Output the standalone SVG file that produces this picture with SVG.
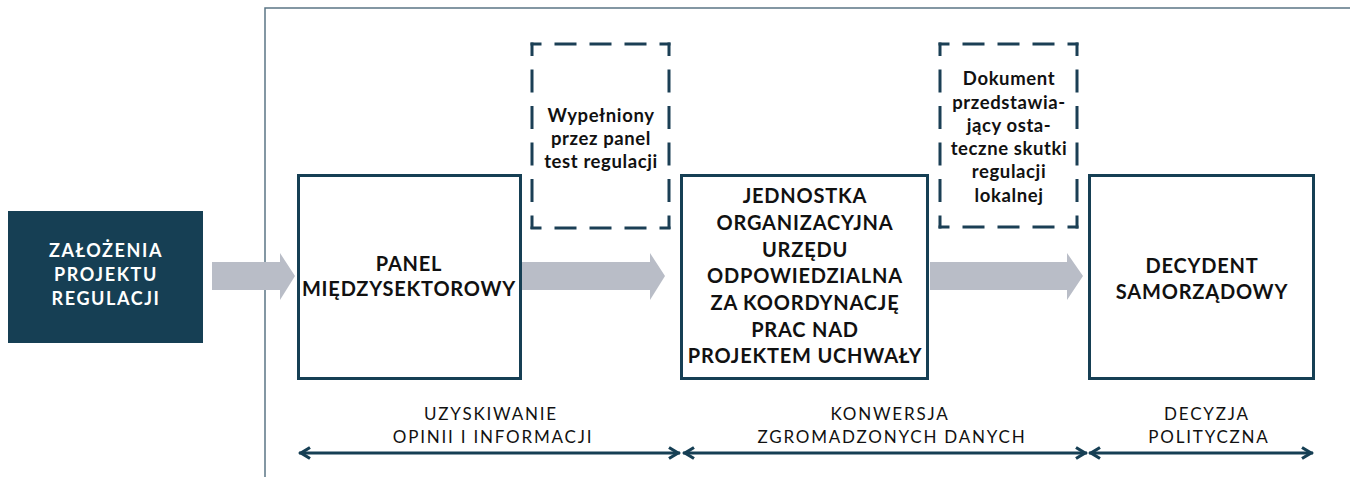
<svg xmlns="http://www.w3.org/2000/svg" width="1350" height="477" viewBox="0 0 1350 477">
<style>
.box{fill:#fff;stroke:#163f54;stroke-width:3}
.dash{stroke:#1b3f55;stroke-width:3;fill:none}
.big{font-family:Lato,"Liberation Sans",sans-serif;font-weight:700;font-size:20px;fill:#111;text-anchor:middle;letter-spacing:0.8px}
.white{fill:#fff;font-size:18px;letter-spacing:1.6px}
.small{font-family:Lato,"Liberation Sans",sans-serif;font-weight:700;font-size:18.5px;fill:#111;text-anchor:middle;letter-spacing:0.6px}
.lab{font-family:Lato,"Liberation Sans",sans-serif;font-weight:400;font-size:17px;fill:#111;text-anchor:middle;letter-spacing:1.8px}
.garrow{fill:#b9bdc7}
.dbl{stroke:#163f54;stroke-width:3;fill:none}
</style>
<defs>
<marker id="chev" markerUnits="userSpaceOnUse" viewBox="-14 -9 16 18" markerWidth="16" markerHeight="18" refX="0" refY="0" orient="auto-start-reverse">
<path d="M-11,-5.5 L-2,0 L-11,5.5" fill="none" stroke="#163f54" stroke-width="3.2" stroke-linejoin="miter"/>
</marker>
</defs>
<g id="frame">
<path d="M265,477 V8 H1350" fill="none" stroke="#5b7585" stroke-width="1.5"/>
</g>
<g id="connectors">
<path class="garrow" d="M212,262 H280 V253 L295,276 L280,300 V290 H212 Z"/>
<path class="garrow" d="M522,262 H650 V253 L665,276 L650,300 V290 H522 Z"/>
<path class="garrow" d="M930,262 H1067 V253 L1083,276 L1067,300 V290 H930 Z"/>
<line class="dbl" x1="299" y1="453" x2="680" y2="453" marker-start="url(#chev)" marker-end="url(#chev)"/>
<line class="dbl" x1="683" y1="453" x2="1087" y2="453" marker-start="url(#chev)" marker-end="url(#chev)"/>
<line class="dbl" x1="1089" y1="453" x2="1313" y2="453" marker-start="url(#chev)" marker-end="url(#chev)"/>
</g>
<g id="zalozenia">
<rect x="8" y="211" width="195" height="132" fill="#163f54"/>
<text class="big white" x="106" y="257">ZAŁOŻENIA</text>
<text class="big white" x="106" y="281">PROJEKTU</text>
<text class="big white" x="106" y="305">REGULACJI</text>
</g>
<g id="panel">
<rect class="box" x="298.5" y="175.5" width="222" height="203"/>
<text class="big" x="409" y="271">PANEL</text>
<text class="big" x="409" y="296">MIĘDZYSEKTOROWY</text>
</g>
<g id="test">
<line class="dash" x1="530.5" y1="44" x2="670.5" y2="44" stroke-dasharray="11 13 22 13 22 13 22 13 11"/>
<line class="dash" x1="530.5" y1="228" x2="670.5" y2="228" stroke-dasharray="11 13 22 13 22 13 22 13 11"/>
<line class="dash" x1="532" y1="42.5" x2="532" y2="229.5" stroke-dasharray="13.5 13.5 23 13.5 23 13.5 23 13.5 23 13.5 13.5"/>
<line class="dash" x1="669" y1="42.5" x2="669" y2="229.5" stroke-dasharray="13.5 13.5 23 13.5 23 13.5 23 13.5 23 13.5 13.5"/>
<text class="small" x="601" y="122">Wypełniony</text>
<text class="small" x="601" y="145">przez panel</text>
<text class="small" x="601" y="168">test regulacji</text>
</g>
<g id="jednostka">
<rect class="box" x="681.5" y="175.5" width="246" height="203"/>
<text class="big" x="805" y="203">JEDNOSTKA</text>
<text class="big" x="805" y="230">ORGANIZACYJNA</text>
<text class="big" x="805" y="257">URZĘDU</text>
<text class="big" x="805" y="283">ODPOWIEDZIALNA</text>
<text class="big" x="805" y="310">ZA KOORDYNACJĘ</text>
<text class="big" x="805" y="337">PRAC NAD</text>
<text class="big" x="805" y="363">PROJEKTEM UCHWAŁY</text>
</g>
<g id="dokument">
<line class="dash" x1="938.5" y1="44" x2="1078.5" y2="44" stroke-dasharray="11 13 22 13 22 13 22 13 11"/>
<line class="dash" x1="938.5" y1="227" x2="1078.5" y2="227" stroke-dasharray="11 13 22 13 22 13 22 13 11"/>
<line class="dash" x1="940" y1="42.5" x2="940" y2="228.5" stroke-dasharray="13.5 13.5 23 13.5 23 13.5 23 13.5 23 13.5 13.5"/>
<line class="dash" x1="1077" y1="42.5" x2="1077" y2="228.5" stroke-dasharray="13.5 13.5 23 13.5 23 13.5 23 13.5 23 13.5 13.5"/>
<text class="small" x="1009" y="85">Dokument</text>
<text class="small" x="1009" y="109">przedstawia-</text>
<text class="small" x="1009" y="132">jący osta-</text>
<text class="small" x="1009" y="155">teczne skutki</text>
<text class="small" x="1009" y="178">regulacji</text>
<text class="small" x="1009" y="202">lokalnej</text>
</g>
<g id="decydent">
<rect class="box" x="1089.5" y="175.5" width="224" height="203"/>
<text class="big" x="1202" y="273">DECYDENT</text>
<text class="big" x="1202" y="299">SAMORZĄDOWY</text>
</g>
<g id="labels">
<text class="lab" x="491" y="420">UZYSKIWANIE</text>
<text class="lab" x="493" y="443">OPINII I INFORMACJI</text>
<text class="lab" x="890" y="420">KONWERSJA</text>
<text class="lab" x="892" y="443">ZGROMADZONYCH DANYCH</text>
<text class="lab" x="1207" y="420">DECYZJA</text>
<text class="lab" x="1209" y="443">POLITYCZNA</text>
</g>
</svg>
